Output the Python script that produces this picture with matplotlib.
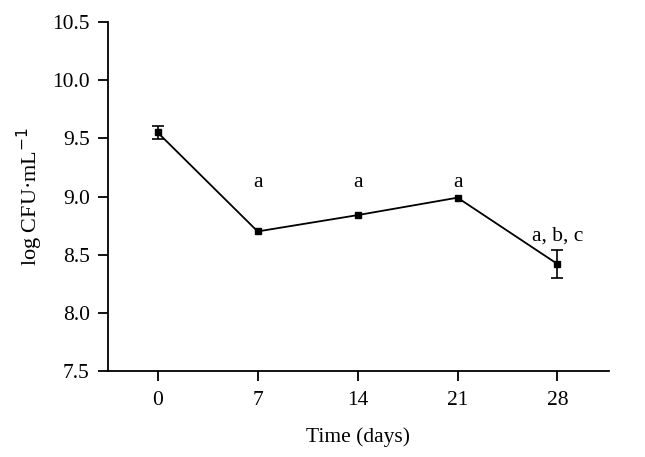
import matplotlib
matplotlib.use("Agg")
import matplotlib.pyplot as plt

days = [0, 7, 14, 21, 28]
log_cfu = [9.55, 8.70, 8.84, 8.99, 8.42]
err = [0.06, 0.0, 0.0, 0.0, 0.12]
letters = ["", "a", "a", "a", "a, b, c"]
letter_y = [None, 9.12, 9.12, 9.12, 8.66]
yticks = [7.5, 8.0, 8.5, 9.0, 9.5, 10.0, 10.5]

plt.rcParams['font.family'] = ['Liberation Serif', 'DejaVu Serif']
fig = plt.figure(figsize=(6.45, 4.57), dpi=100)
ax = fig.add_axes([0.167, 0.188, 0.777, 0.764])
ax.plot(days, log_cfu, color='black', lw=1.3, marker='s', ms=5, zorder=3)
ex = [d for d, e in zip(days, err) if e > 0]
ey = [v for v, e in zip(log_cfu, err) if e > 0]
ee = [e for e in err if e > 0]
ax.errorbar(ex, ey, yerr=ee, fmt='none', ecolor='black',
            capsize=4.5, elinewidth=1.2, capthick=1.2, zorder=2)
for d, t, y in zip(days, letters, letter_y):
    if t:
        ax.text(d, y, t, ha='center', va='center', fontsize=15.5)
ax.set_xlim(-3.5, 31.6)
ax.set_ylim(7.5, 10.5)
ax.set_xticks(days)
ax.set_xticklabels([str(d) for d in days])
ax.set_yticks(yticks)
ax.set_yticklabels([f"{v:.1f}" for v in yticks])
for s in ['top', 'right']:
    ax.spines[s].set_visible(False)
for s in ['left', 'bottom']:
    ax.spines[s].set_linewidth(1.3)
ax.tick_params(direction='out', length=7, width=1.3, labelsize=15.5)
ax.tick_params(axis='x', pad=7)
ax.tick_params(axis='y', pad=6)
ax.set_xlabel("Time (days)", fontsize=15.5, labelpad=13)
ax.set_ylabel("log CFU·mL$^{-1}$", fontsize=16, labelpad=5)
fig.savefig("out.png", dpi=100)
